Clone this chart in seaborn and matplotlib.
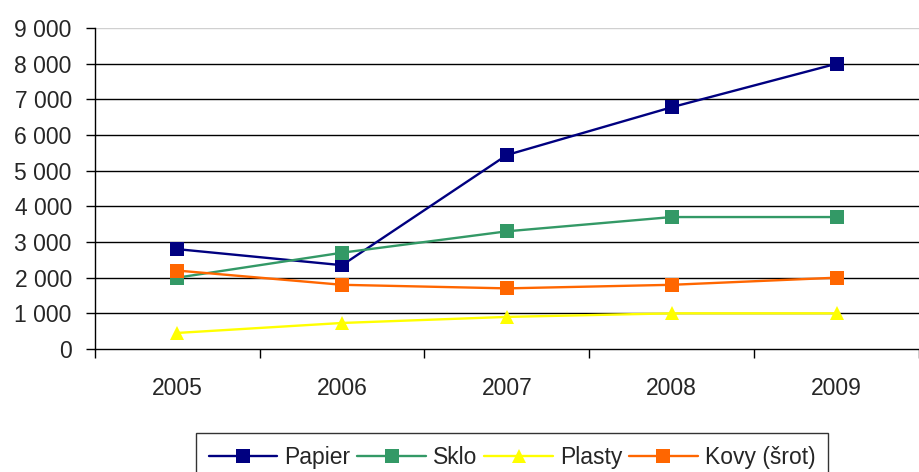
import pandas as pd
import numpy as np
import seaborn as sns
import matplotlib.pyplot as plt
from matplotlib.ticker import FixedLocator, FuncFormatter

years = ["2005", "2006", "2007", "2008", "2009"]
papier = [2800, 2350, 5440, 6780, 8000]
sklo = [2000, 2700, 3300, 3700, 3700]
plasty = [450, 730, 900, 1000, 1000]
kovy = [2200, 1800, 1700, 1800, 2000]

series = ["Papier", "Sklo", "Plasty", "Kovy (šrot)"]
colors = ["#000080", "#339966", "#FFFF00", "#FF6600"]
markers = ["s", "s", "^", "s"]

rows = []
for name, vals in zip(series, [papier, sklo, plasty, kovy]):
    for i, v in enumerate(vals):
        rows.append({"x": i, "rok": years[i], "hodnota": v, "druh": name})
df = pd.DataFrame(rows)

sns.set_style("white")
plt.rcParams['font.family'] = ['Liberation Sans', 'DejaVu Sans']

fig = plt.figure(figsize=(9.2, 4.72), dpi=100)
ax = fig.add_axes([0.103, 0.2606, 0.896, 0.68])

sns.lineplot(data=df, x="x", y="hodnota", hue="druh", style="druh",
             palette=colors, markers=markers, dashes=False,
             markersize=10, markeredgewidth=0, linewidth=1.7, ax=ax)

ax.set_xlim(-0.5, 4.5)
ax.set_ylim(0, 9000)
ax.set_xlabel("")
ax.set_ylabel("")

ax.yaxis.set_major_locator(FixedLocator(np.arange(0, 9001, 1000)))
ax.yaxis.set_major_formatter(FuncFormatter(lambda v, p: f"{int(v):,}".replace(",", " ")))
ax.set_xticks(range(len(years)))
ax.set_xticklabels(years)
ax.xaxis.set_minor_locator(FixedLocator(np.arange(-0.5, 4.6, 1.0)))

ax.tick_params(axis="y", which="major", left=True, length=6.5, width=1, color="black",
               labelsize=16.5, pad=10, direction="out")
ax.tick_params(axis="x", which="major", bottom=False, labelsize=16.5, pad=17)
ax.tick_params(axis="x", which="minor", bottom=True, length=6.5, width=1, color="black",
               direction="out")

for y in range(1000, 9000, 1000):
    ax.axhline(y, color="black", linewidth=1, zorder=0)
ax.axhline(9000, color="#d0d0d0", linewidth=1, zorder=0)

for s in ["top", "right"]:
    ax.spines[s].set_visible(False)
for s in ["left", "bottom"]:
    ax.spines[s].set_color("black")
    ax.spines[s].set_linewidth(1)

handles, labels = ax.get_legend_handles_labels()
leg = ax.legend(handles, labels, loc="upper center", bbox_to_anchor=(0.5565, 0.106),
                bbox_transform=fig.transFigure, ncol=4, frameon=True, fancybox=False,
                fontsize=16.5, handlelength=3.0, handletextpad=0.3, columnspacing=0.3,
                borderpad=0.55)
leg.get_frame().set_edgecolor("black")
leg.get_frame().set_linewidth(1)

fig.savefig("out.png", dpi=100)
